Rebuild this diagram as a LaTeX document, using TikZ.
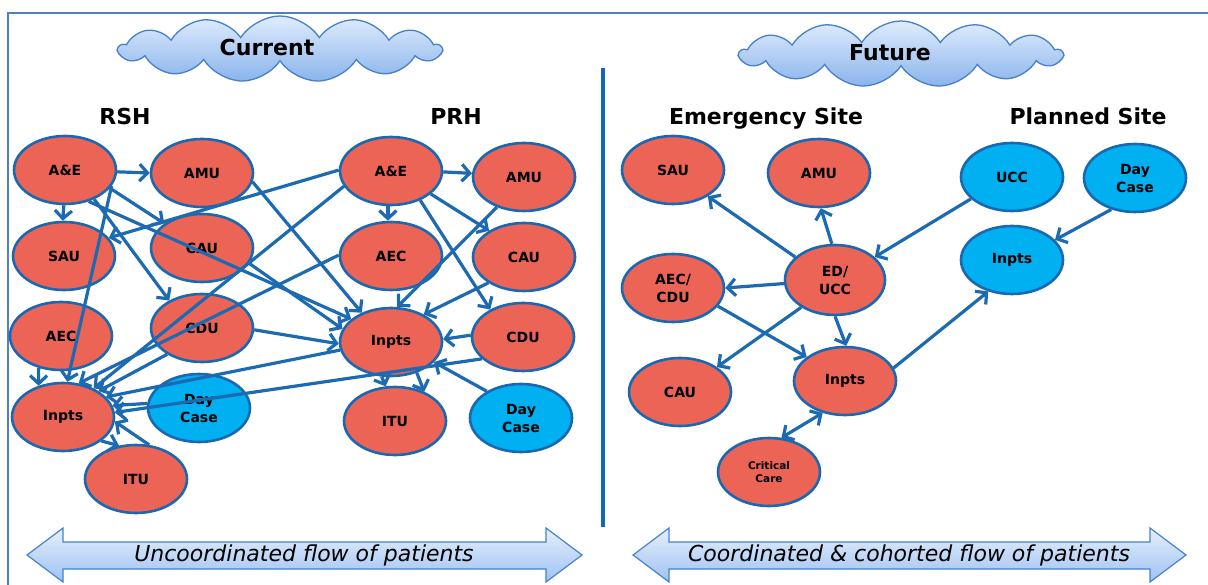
\documentclass[tikz,border=0pt]{standalone}
\usepackage{fontspec}
\setmainfont{DejaVu Sans}
\usetikzlibrary{shapes.geometric,shapes.symbols,arrows.meta}
\definecolor{nodered}{RGB}{236,100,86}
\definecolor{nodeblue}{RGB}{0,176,240}
\definecolor{nodeborder}{RGB}{26,104,178}
\definecolor{edgeblue}{RGB}{28,106,178}
\definecolor{cloudtop}{RGB}{224,236,253}
\definecolor{cloudbot}{RGB}{138,180,236}
\definecolor{cloudline}{RGB}{70,128,200}
\definecolor{arrtop}{RGB}{230,239,252}
\definecolor{arrbot}{RGB}{158,194,242}
\definecolor{arrline}{RGB}{70,130,205}
\definecolor{framecol}{RGB}{79,129,189}
\definecolor{divcol}{RGB}{16,104,182}
\begin{document}
\begin{tikzpicture}[x=1pt,y=-1pt,
  rednode/.style={ellipse, draw=nodeborder, line width=2.6pt, fill=nodered,
    minimum width=102pt, minimum height=68pt, inner sep=0pt, align=center,
    font=\bfseries\fontsize{14}{18}\selectfont},
  bluenode/.style={rednode, fill=nodeblue},
  ed/.style={draw=edgeblue, line width=3.2pt, -{Straight Barb[length=8pt,width=17pt]}},
  title/.style={font=\bfseries\fontsize{22}{26}\selectfont, anchor=base, inner sep=0pt},
  cloudbox/.style={cloud, cloud puffs=13, cloud puff arc=115, cloud ignores aspect,
    minimum width=322pt, minimum height=66pt, draw=cloudline, line width=1.3pt,
    top color=cloudtop, bottom color=cloudbot},
  bigarrow/.style={draw=arrline, line width=1.2pt, top color=arrtop, bottom color=arrbot},
  arrowtext/.style={font=\itshape\fontsize{22}{26}\selectfont}
]
\useasboundingbox (0,0) rectangle (1208,585);
\fill[white] (0,0) rectangle (1208,585);
% frame
\draw[framecol, line width=1.5pt] (8,585) -- (8,13) -- (1208,13);
% divider
\draw[divcol, line width=4pt] (603,68) -- (603,527);

% clouds
\node[cloudbox] (cloudL) at (280,49) {};
\node[title] (curT) at (267,56) {Current};
\node[cloudbox] (cloudR) at (901,54) {};
\node[title] (futT) at (890,61) {Future};

% site titles
\node[title] (rshT) at (125,125) {RSH};
\node[title] (prhT) at (456,125) {PRH};
\node[title] (emT) at (766,125) {Emergency Site};
\node[title] (plT) at (1088,125) {Planned Site};

% RSH nodes
\node[rednode] (aeR) at (65,170) {A\&E};
\node[rednode] (amuR) at (202,173) {AMU};
\node[rednode] (sauR) at (64,256) {SAU};
\node[rednode] (cauR) at (202,248) {CAU};
\node[rednode] (aecR) at (61,336) {AEC};
\node[rednode] (cduR) at (202,328) {CDU};
\node[rednode] (inR) at (63,417) {Inpts};
\node[bluenode] (dcR) at (199,408) {Day\\Case};
\node[rednode] (ituR) at (136,479) {ITU};
% PRH nodes
\node[rednode] (aeP) at (391,171) {A\&E};
\node[rednode] (amuP) at (524,177) {AMU};
\node[rednode] (aecP) at (391,256) {AEC};
\node[rednode] (cauP) at (524,257) {CAU};
\node[rednode] (inP) at (391,342) {Inpts};
\node[rednode] (cduP) at (523,337) {CDU};
\node[rednode] (ituP) at (395,421) {ITU};
\node[bluenode] (dcP) at (521,418) {Day\\Case};
% Future nodes
\node[rednode] (sauF) at (673,170) {SAU};
\node[rednode] (amuF) at (819,173) {AMU};
\node[bluenode] (uccF) at (1012,177) {UCC};
\node[bluenode] (dcF) at (1135,178) {Day\\Case};
\node[bluenode] (inBF) at (1012,260) {Inpts};
\node[rednode] (aecF) at (673,288) {AEC/\\CDU};
\node[rednode, minimum width=100pt, minimum height=70pt] (edF) at (835,280) {ED/\\UCC};
\node[rednode] (cauF) at (680,392) {CAU};
\node[rednode] (inF) at (845,381) {Inpts};
\node[rednode, font=\bfseries\fontsize{10.5}{13}\selectfont] (ccF) at (769,472) {Critical\\Care};

% RSH / PRH edges
\draw[ed] (aeR.-2) -- (amuR.180);
\draw[ed] (aeR.-92) -- (sauR.92);
\draw[ed] (aeR.-22) -- (cauR.147);
\draw[ed] (aeR.-45) -- (cduR.140);
\draw[ed] (aeR.-53) -- (inP.150);
\draw[ed] (aeR.-19) -- (inR.83);
\draw[ed] (amuR.-10) -- (inP.135);
\draw[ed] (cauR.-18) -- (inP.165);
\draw[ed] (cduR.-2) -- (inP.182);
\draw[ed] (aeP.179) -- (sauR.22);
\draw[ed] (aeP.198) -- (inR.43);
\draw[ed] (aecP.179) -- (inR.65);
\draw[ed] (cduR.217) -- (inR.36);
\draw[ed] (inP.189) -- (inR.25);
\draw[ed] (cduP.208) -- (inR.5);
\draw[ed] (dcR.175) -- (inR.13);
\draw[ed] (inR.-32) -- (ituR.117);
\draw[ed] (ituR.69) -- (inR.-5);
\draw[ed] (aecR.235) -- (inR.128);
\draw[ed] (aeP.-1) -- (amuP.176);
\draw[ed] (aeP.-95) -- (aecP.95);
\draw[ed] (aeP.-30) -- (cauP.143);
\draw[ed] (aeP.-45) -- (cduP.140);
\draw[ed] (amuP.228) -- (inP.80);
\draw[ed] (cauP.216) -- (inP.40);
\draw[ed] (cduP.178) -- (inP.3);
\draw[ed] (dcP.142) -- (inP.-25);
\draw[ed] (inP.255) -- (ituP.105);
\draw[ed] (inP.-50) -- (ituP.45);

% Future edges
\draw[ed] (edF.150) -- (sauF.-37);
\draw[ed] (edF.95) -- (amuF.-87);
\draw[ed] (edF.184) -- (aecF.0);
\draw[ed] (uccF.208) -- (edF.30);
\draw[ed] (dcF.233) -- (inBF.25);
\draw[ed] (edF.219) -- (cauF.34);
\draw[ed] (aecF.-22) -- (inF.148);
\draw[ed] (edF.-90) -- (inF.88);
\draw[ed] (inF.15) -- (inBF.233);
\draw[ed, {Straight Barb[length=8pt,width=17pt]}-{Straight Barb[length=8pt,width=17pt]}] (ccF.70) -- (inF.235);

% bottom arrows
\path[bigarrow] (27,555) -- (63,528) -- (63,542) -- (546,542) -- (546,528) -- (582,555)
  -- (546,582) -- (546,569) -- (63,569) -- (63,582) -- cycle;
\node[arrowtext] (flowL) at (304,555) {Uncoordinated flow of patients};
\path[bigarrow] (633,555) -- (669,528) -- (669,542) -- (1150,542) -- (1150,528) -- (1186,555)
  -- (1150,582) -- (1150,569) -- (669,569) -- (669,582) -- cycle;
\node[arrowtext] (flowR) at (909,555) {Coordinated \& cohorted flow of patients};
\end{tikzpicture}
\end{document}
